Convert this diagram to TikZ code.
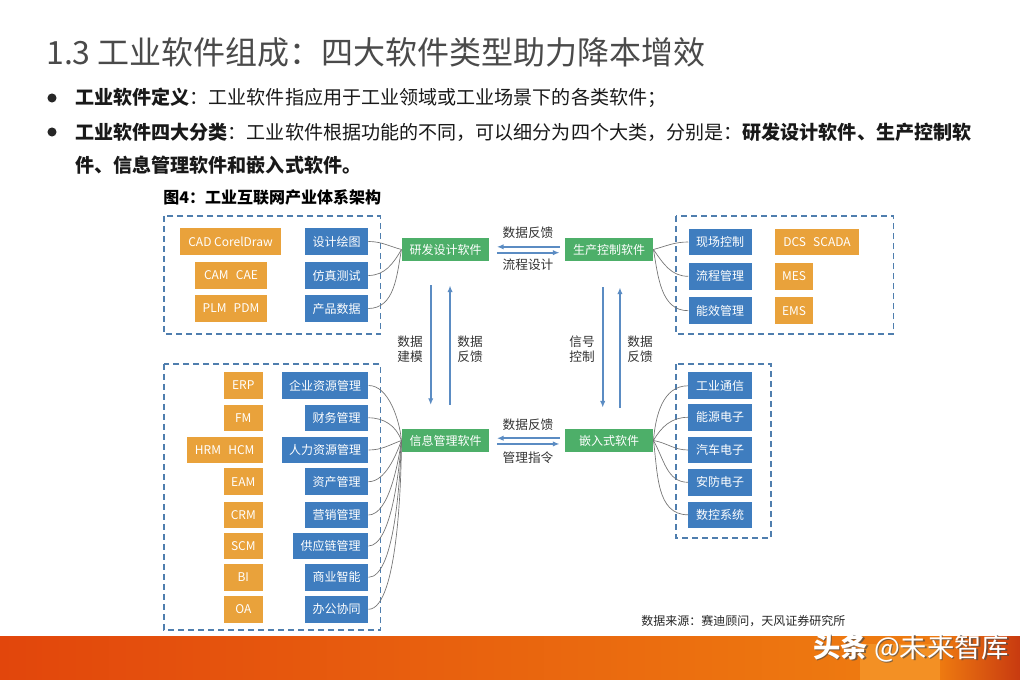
\documentclass[tikz,border=0pt]{standalone}
\usepackage{fontspec}
\setmainfont{Noto Sans CJK SC}
\usetikzlibrary{arrows.meta}
\definecolor{cor}{HTML}{E9A23B}
\definecolor{cbl}{HTML}{3F7DBF}
\definecolor{cgr}{HTML}{4DAF69}
\definecolor{cdash}{HTML}{4F7EAE}
\definecolor{carr}{HTML}{5B8CC3}
\definecolor{ctitle}{HTML}{4A4A4A}
\definecolor{barl}{HTML}{E2460C}
\definecolor{barr}{HTML}{EE7A10}
\definecolor{barlight}{HTML}{F39024}
\definecolor{bardark}{HTML}{C83A10}
\begin{document}
\begin{tikzpicture}[x=0.75pt,y=-0.75pt,
  bx/.style 2 args={minimum width=#1*0.75pt, minimum height=#2*0.75pt, inner sep=0pt, text=white, font=\fontsize{9}{10}\selectfont},
  ob/.style={fill=cor}, bb/.style={fill=cbl}, gb/.style={fill=cgr},
  dbox/.style={draw=cdash, line width=1.1pt, dash pattern=on 4.5pt off 3pt},
  arr/.style={draw=carr, line width=1.3pt, -{Latex[length=5pt,width=4pt]}},
  lnk/.style={draw=black!55, line width=0.5pt},
  lab/.style={font=\fontsize{9.5}{11.25}\selectfont, text=black!80, align=center, inner sep=0pt},
  txt/.style={anchor=west, inner sep=0pt}
]
\useasboundingbox (0,0) rectangle (1020,680);
\fill[white] (0,0) rectangle (1020,680);

% title and bullets
\node[txt, text=ctitle, font=\fontsize{24}{28}\selectfont] (title) at (46,52) {1.3 工业软件组成：四大软件类型助力降本增效};
\fill[black!85] (52,98) circle (3.4pt);
\fill[black!85] (52,132) circle (3.4pt);
\node[txt, text=black!90, font=\fontsize{14.3}{17}\selectfont] (b1) at (75,98) {\textbf{工业软件定义}：工业软件指应用于工业领域或工业场景下的各类软件；};
\node[txt, text=black!90, font=\fontsize{14.3}{17}\selectfont] (b2) at (75,132) {\textbf{工业软件四大分类}：工业软件根据功能的不同，可以细分为四个大类，分别是：\textbf{研发设计软件、生产控制软}};
\node[txt, text=black!90, font=\fontsize{14.3}{17}\selectfont] (b3) at (75,165) {\textbf{件、信息管理软件和嵌入式软件。}};
\node[txt, font=\bfseries\fontsize{12}{14}\selectfont] (cap) at (163,197) {图4：工业互联网产业体系架构};

% dashed group boxes
\draw[dbox] (164,216) rectangle (380.7,334);
\draw[dbox] (676,216) rectangle (893.3,334);
\draw[dbox] (164,364) rectangle (380.7,630);
\draw[dbox] (676,364) rectangle (771,538);

% top-left group
\node[ob,bx={101}{27}] (cad) at (230.5,241.5) {CAD CorelDraw};
\node[ob,bx={72}{27}] (cam) at (231,275.5) {CAM\hspace{0.6em}CAE};
\node[ob,bx={72}{27}] (plm) at (231,308.5) {PLM\hspace{0.6em}PDM};
\node[bb,bx={63}{27}] (sj) at (336.5,241.5) {设计绘图};
\node[bb,bx={63}{27}] (fz) at (336.5,275.5) {仿真测试};
\node[bb,bx={63}{27}] (cp) at (336.5,308.5) {产品数据};

% top-right group
\node[bb,bx={63}{26.5}] (xc) at (720,242) {现场控制};
\node[bb,bx={63}{26.5}] (lc) at (720,276.3) {流程管理};
\node[bb,bx={63}{26.5}] (nx) at (720,310.7) {能效管理};
\node[ob,bx={84}{26.5}] (dcs) at (817,242) {DCS\hspace{0.6em}SCADA};
\node[ob,bx={38.5}{26.5}] (mes) at (794,276.3) {MES};
\node[ob,bx={38.5}{26.5}] (ems) at (794,310.7) {EMS};

% bottom-left group
\node[bb,bx={86.7}{27}] (qy) at (325,385.5) {企业资源管理};
\node[bb,bx={63}{26.5}] (cw) at (336.7,417.8) {财务管理};
\node[bb,bx={86.7}{26.5}] (rl) at (325,450) {人力资源管理};
\node[bb,bx={63}{26.5}] (zc) at (336.7,481.7) {资产管理};
\node[bb,bx={63}{26.5}] (yx) at (336.7,515) {营销管理};
\node[bb,bx={74.7}{26.5}] (gy) at (330.7,546) {供应链管理};
\node[bb,bx={63}{26.5}] (sy) at (336.7,577.3) {商业智能};
\node[bb,bx={63}{26.5}] (bg) at (336.7,609.3) {办公协同};
\node[ob,bx={38.7}{27}] (erp) at (243.3,385.5) {ERP};
\node[ob,bx={38.7}{26.5}] (fm) at (243.3,417.8) {FM};
\node[ob,bx={76}{26.5}] (hrm) at (224.7,450) {HRM\hspace{0.6em}HCM};
\node[ob,bx={38.7}{26.5}] (eam) at (243.3,481.7) {EAM};
\node[ob,bx={38.7}{26.5}] (crm) at (243.3,515) {CRM};
\node[ob,bx={38.7}{26.5}] (scm) at (243.3,546) {SCM};
\node[ob,bx={38.7}{26.5}] (bi) at (243.3,577.3) {BI};
\node[ob,bx={38.7}{26.5}] (oa) at (243.3,609.3) {OA};

% bottom-right group
\node[bb,bx={63.4}{27}] (gt) at (720,385.8) {工业通信};
\node[bb,bx={63.4}{26.5}] (ny) at (720,417.3) {能源电子};
\node[bb,bx={63.4}{26.5}] (qc) at (720,450) {汽车电子};
\node[bb,bx={63.4}{26.5}] (af) at (720,482.3) {安防电子};
\node[bb,bx={63.4}{26.5}] (sk) at (720,514.8) {数控系统};

% four main green boxes
\node[gb,bx={87.6}{23.4}] (yf) at (445.5,249.5) {研发设计软件};
\node[gb,bx={88.3}{23.4}] (sc) at (609,249.5) {生产控制软件};
\node[gb,bx={87.6}{22.6}] (xx) at (445.5,440.5) {信息管理软件};
\node[gb,bx={88.3}{22.6}] (em) at (609,440.5) {嵌入式软件};

% horizontal arrows
\draw[arr] ([xshift=-3.8pt,yshift=2pt]sc.west) -- ([xshift=5.5pt,yshift=2pt]yf.east);
\draw[arr] ([xshift=5.5pt,yshift=-2.4pt]yf.east) -- ([xshift=-3.8pt,yshift=-2.4pt]sc.west);
\draw[arr] ([xshift=-3.8pt,yshift=1.7pt]em.west) -- ([xshift=5.5pt,yshift=1.7pt]xx.east);
\draw[arr] ([xshift=5.5pt,yshift=-2.6pt]xx.east) -- ([xshift=-3.8pt,yshift=-2.6pt]em.west);
\node[lab] (l1) at (528,233) {数据反馈};
\node[lab] (l2) at (528,265) {流程设计};
\node[lab] (l3) at (528,425) {数据反馈};
\node[lab] (l4) at (528,457.5) {管理指令};

% vertical arrows
\draw[arr] ([xshift=-11.1pt,yshift=-18pt]yf.south) -- ([xshift=-11.1pt,yshift=18pt]xx.north);
\draw[arr] ([xshift=3.4pt,yshift=18pt]xx.north) -- ([xshift=3.4pt,yshift=-18pt]yf.south);
\draw[arr] ([xshift=-4.7pt,yshift=-19.5pt]sc.south) -- ([xshift=-4.7pt,yshift=16pt]em.north);
\draw[arr] ([xshift=8.2pt,yshift=16pt]em.north) -- ([xshift=8.2pt,yshift=-19.5pt]sc.south);
\node[lab] (l5) at (410,349) {数据\\建模};
\node[lab] (l6) at (470,349) {数据\\反馈};
\node[lab] (l7) at (582,349) {信号\\控制};
\node[lab] (l8) at (640,349) {数据\\反馈};

% links top-left
\draw[lnk] (sj.east) to[out=0,in=165] (yf.west);
\draw[lnk] (fz.east) to[out=0,in=240] (yf.west);
\draw[lnk] (cp.east) to[out=0,in=260] (yf.west);
% links top-right
\draw[lnk] (sc.east) to[out=15,in=180] (xc.west);
\draw[lnk] (sc.east) to[out=-55,in=180] (lc.west);
\draw[lnk] (sc.east) to[out=-80,in=180] (nx.west);
% links bottom-left
\draw[lnk] (qy.east) to[out=0,in=95,looseness=0.8] (xx.west);
\draw[lnk] (cw.east) to[out=0,in=110] (xx.west);
\draw[lnk] (rl.east) to[out=0,in=200] (xx.west);
\draw[lnk] (zc.east) to[out=0,in=250,looseness=0.8] (xx.west);
\draw[lnk] (yx.east) to[out=0,in=262,looseness=0.65] (xx.west);
\draw[lnk] (gy.east) to[out=0,in=266,looseness=0.55] (xx.west);
\draw[lnk] (sy.east) to[out=0,in=268,looseness=0.5] (xx.west);
\draw[lnk] (bg.east) to[out=0,in=270,looseness=0.45] (xx.west);
% links bottom-right
\draw[lnk] (em.east) to[out=85,in=180] (gt.west);
\draw[lnk] (em.east) to[out=60,in=180] (ny.west);
\draw[lnk] (em.east) to[out=-10,in=180] (qc.west);
\draw[lnk] (em.east) to[out=-60,in=180] (af.west);
\draw[lnk] (em.east) to[out=-82,in=180] (sk.west);

% source
\node[txt, text=black!85, font=\fontsize{9}{11}\selectfont] (src) at (641,621) {数据来源：赛迪顾问，天风证券研究所};

% bottom bar
\shade[left color=barl, right color=barr] (0,636) rectangle (870,680);
\fill[barr] (870,636) rectangle (1020,680);
\fill[barlight] (860,644) rectangle (940,680);
\shade[left color=barr, right color=bardark] (940,636) rectangle (1020,680);
\node[txt, text=black!70, opacity=0.7, font=\fontsize{20.5}{24}\selectfont] (wms) at (814.5,649.5) {\textbf{头条} @未来智库};
\node[txt, text=white, font=\fontsize{20.5}{24}\selectfont] (wm) at (813,648) {\textbf{头条} @未来智库};
\end{tikzpicture}
\end{document}
